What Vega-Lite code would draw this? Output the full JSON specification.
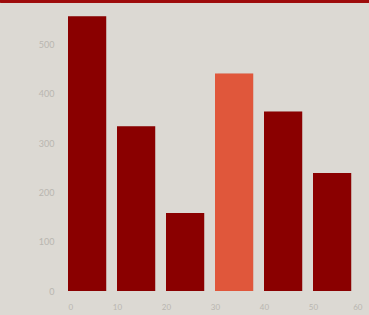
{
  "$schema": "https://vega.github.io/schema/vega-lite/v6.json",
  "autosize": {"type": "none"},
  "width": 294,
  "height": 291,
  "padding": {"left": 68, "top": 0, "right": 7, "bottom": 24},
  "background": "#dcd9d3",
  "config": {
    "view": {"stroke": null},
    "axis": {"labelFont": "Lato", "labelColor": "#b9b6b0", "labelFontSize": 8, "grid": false, "domain": false, "ticks": false, "title": null}
  },
  "data": {"values": [
    {"start": 0, "end": 7.8, "value": 557, "group": "a"},
    {"start": 10, "end": 17.8, "value": 334, "group": "a"},
    {"start": 20, "end": 27.8, "value": 158, "group": "a"},
    {"start": 30, "end": 37.8, "value": 441, "group": "b"},
    {"start": 40, "end": 47.8, "value": 364, "group": "a"},
    {"start": 50, "end": 57.8, "value": 239, "group": "a"}
  ]},
  "layer": [
    {
      "mark": {"type": "bar", "color": "#cdcac4", "xOffset": 3},
      "encoding": {
        "x": {"field": "start", "type": "quantitative", "scale": {"domain": [0, 60], "nice": false}, "axis": {"values": [0, 10, 20, 30, 40, 50, 60], "labelPadding": 12}},
        "x2": {"field": "end"},
        "y": {"field": "value", "type": "quantitative", "scale": {"domain": [0, 590], "nice": false}, "axis": {"values": [0, 100, 200, 300, 400, 500], "labelPadding": 14, "labelFontSize": 9}},
        "y2": {"datum": 0}
      }
    },
    {
      "mark": {"type": "bar"},
      "encoding": {
        "x": {"field": "start", "type": "quantitative"},
        "x2": {"field": "end"},
        "y": {"field": "value", "type": "quantitative"},
        "y2": {"datum": 0},
        "color": {"field": "group", "type": "nominal", "scale": {"domain": ["a", "b"], "range": ["#8a0000", "#e0573b"]}, "legend": null}
      }
    },
    {
      "mark": {"type": "bar", "color": "#9e0b0b", "clip": false},
      "encoding": {
        "y": {"datum": 590},
        "y2": {"datum": 585},
        "x": {"datum": -13.8},
        "x2": {"datum": 61.4}
      }
    }
  ]
}
